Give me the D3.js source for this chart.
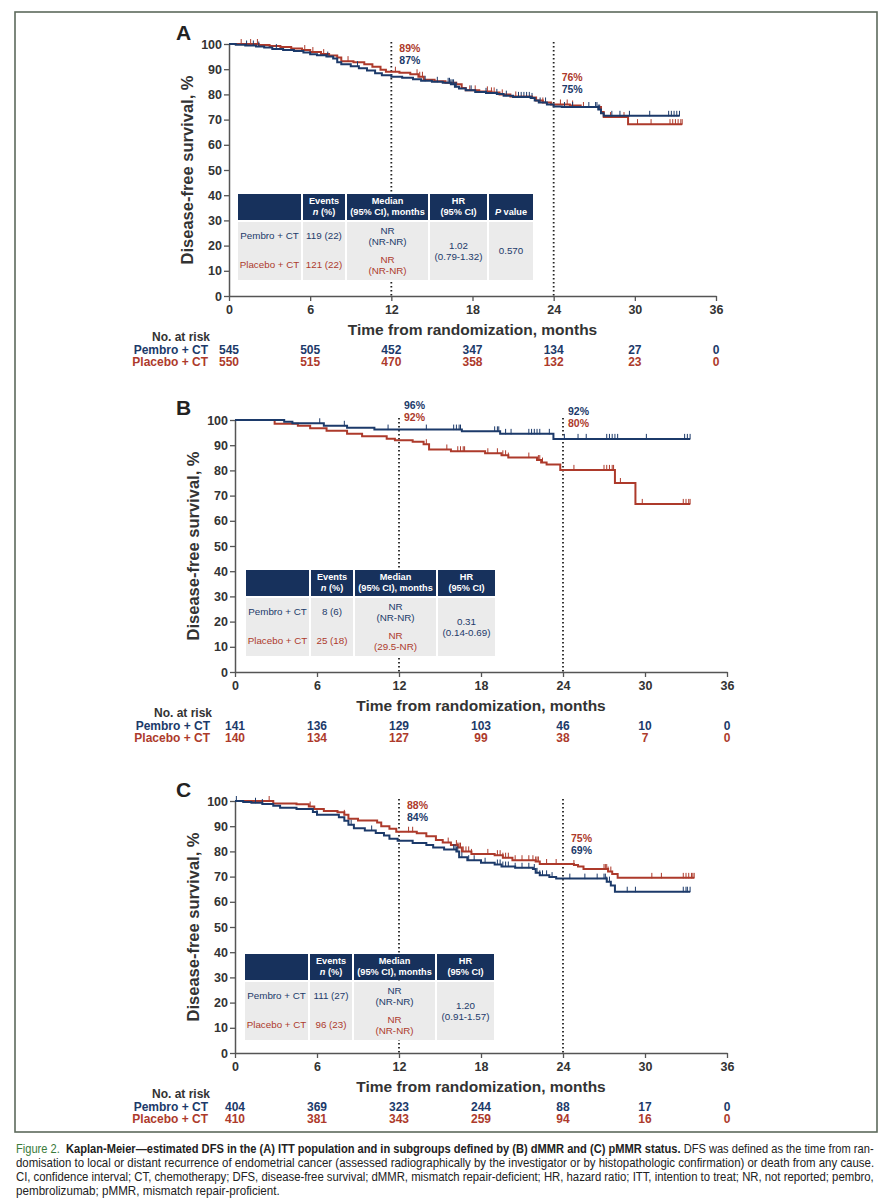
<!DOCTYPE html>
<html>
<head>
<meta charset="utf-8">
<script src="https://cdn.jsdelivr.net/npm/d3@7"></script>
<style>
body { margin: 0; background: #fff; }
svg { display: block; }
text { font-family: "Liberation Sans", Arial, sans-serif; }
</style>
</head>
<body>
<div id="fig"></div>
<script>
// ---- data ----
var months = [0, 6, 12, 18, 24, 30, 36];
var yTicks = [0, 10, 20, 30, 40, 50, 60, 70, 80, 90, 100];
var arms = ['Pembro + CT', 'Placebo + CT'];
var landmarks = [12, 24];

// A - ITT
var stepsA_pembro = [[0,100],[0.5,99.7],[1.2,99.4],[2.0,99.0],[2.6,98.6],[3.2,98.0],[4.0,97.6],[4.8,97.2],[5.5,96.6],[6.0,95.9],[6.5,95.5],[7.2,95.0],[7.7,94.2],[8.0,92.8],[8.3,92.0],[9.0,91.2],[9.6,90.4],[10.2,89.5],[10.8,88.4],[11.3,87.6],[12.0,87.0],[12.8,86.6],[13.6,86.0],[14.2,85.4],[15.0,85.0],[15.8,84.6],[16.4,84.0],[16.7,83.0],[17.0,82.3],[17.5,81.6],[18.2,81.0],[19.0,80.6],[19.8,80.2],[20.3,79.5],[21.0,79.0],[22.3,78.6],[22.6,77.6],[22.9,76.8],[23.5,76.0],[24.0,75.2],[24.6,75.0],[27.3,74.0],[27.5,72.5],[27.7,71.5],[33.3,71.5]];
var stepsA_placebo = [[0,100],[2.2,99.6],[3.0,99.2],[3.8,98.8],[4.6,98.2],[5.4,97.6],[6.0,96.8],[6.8,96.0],[7.4,95.4],[8.0,94.6],[8.3,93.2],[9.2,92.8],[10.0,92.0],[10.6,91.0],[11.2,89.8],[11.6,89.0],[12.6,88.6],[13.4,88.0],[14.0,87.0],[14.4,85.8],[15.2,85.2],[16.0,84.6],[16.8,84.0],[17.2,82.5],[17.5,81.6],[18.5,81.2],[19.4,80.8],[20.0,80.0],[20.8,79.2],[22.4,78.8],[22.7,77.6],[23.2,76.8],[23.8,76.0],[25.2,75.6],[26.0,75.0],[27.5,73.0],[27.7,71.0],[29.5,68.2],[33.5,68.2]];
var censA_pembro = [1.3,1.8,2.2,3.5,7.3,9.5,14.5,15.4,16.2,16.3,16.4,16.5,16.6,16.7,16.8,17.9,19.0,19.8,20.5,21.4,21.6,21.8,22.0,22.2,22.4,23.0,23.4,24.8,25.4,26.6,27.1,27.2,27.3,27.4,28.3,28.9,29.6,31.1,32.5,32.7,32.9,33.1,33.3];
var censA_placebo = [0.9,1.6,2.1,5.6,6.2,7.0,8.8,12.3,13.9,14.1,14.3,17.8,18.2,19.1,19.4,19.6,20.2,21.2,23.2,24.5,25.0,25.4,26.2,28.2,29.2,30.2,31.2,32.6,32.8,33.0,33.2,33.4,33.5];
var riskA_pembro = [545, 505, 452, 347, 134, 27, 0];
var riskA_placebo = [550, 515, 470, 358, 132, 23, 0];
var landA_pembro = [87, 75];
var landA_placebo = [89, 76];
var eventsA = ['119 (22)', '121 (22)'];
var medianA = [['NR', '(NR-NR)'], ['NR', '(NR-NR)']];
var hrA = ['1.02', '(0.79-1.32)'];
var pA = '0.570';

// B - dMMR
var stepsB_pembro = [[0,100],[3.6,99.3],[4.2,98.7],[6.5,97.7],[8.2,96.9],[10.2,96.2],[16.6,95.5],[19.4,94.5],[23.3,92.5],[33.3,92.5]];
var stepsB_placebo = [[0,100],[2.9,98.5],[4.6,97.7],[5.5,96.7],[6.7,95.7],[8.2,94.5],[9.3,93.6],[11.1,92.6],[11.7,92.0],[13.0,91.4],[13.8,90.4],[14.2,88.3],[15.8,87.6],[18.3,86.8],[19.5,86.0],[20.0,85.1],[22.1,84.1],[22.4,83.1],[22.8,82.3],[23.8,80.2],[27.8,75.0],[29.3,66.7],[33.3,66.7]];
var censB_pembro = [6.2,8.0,11.2,14.0,16.0,16.2,16.4,16.5,19.0,19.2,19.3,19.8,20.2,21.5,21.7,21.9,22.1,22.3,23.0,24.1,25.1,25.7,27.2,27.4,27.6,27.8,28.0,30.1,32.9,33.1,33.3];
var censB_placebo = [14.0,15.5,16.3,16.5,16.7,16.8,18.5,19.2,19.6,19.8,20.0,21.5,22.2,22.3,22.5,24.8,27.0,27.2,27.4,27.6,27.7,28.2,29.8,32.8,33.0,33.2,33.3];
var riskB_pembro = [141, 136, 129, 103, 46, 10, 0];
var riskB_placebo = [140, 134, 127, 99, 38, 7, 0];
var landB_pembro = [96, 92];
var landB_placebo = [92, 80];
var eventsB = ['8 (6)', '25 (18)'];
var medianB = [['NR', '(NR-NR)'], ['NR', '(29.5-NR)']];
var hrB = ['0.31', '(0.14-0.69)'];

// C - pMMR
var stepsC_pembro = [[0,100],[0.6,99.6],[1.2,99.3],[2.0,98.8],[2.8,98.1],[3.3,97.3],[4.5,96.8],[5.7,95.6],[6.0,94.5],[7.6,93.6],[8.0,92.2],[8.3,90.6],[8.7,89.2],[9.5,88.3],[10.3,87.3],[10.9,86.3],[11.3,85.0],[11.9,84.2],[13.0,83.3],[14.0,82.5],[14.5,81.5],[15.3,80.8],[16.2,80.0],[16.4,77.7],[17.0,76.5],[18.0,75.5],[19.0,74.8],[19.5,74.0],[20.5,73.5],[21.8,73.0],[22.0,71.5],[22.3,70.5],[23.0,69.8],[23.5,69.2],[27.2,68.0],[27.5,66.5],[27.8,64.0],[33.3,64.0]];
var stepsC_placebo = [[0,100],[2.8,99.0],[4.5,98.7],[5.4,97.8],[5.8,96.8],[6.5,96.0],[7.5,95.5],[8.0,94.5],[8.3,93.0],[9.0,92.3],[10.4,91.5],[10.7,90.0],[11.3,89.0],[11.8,87.8],[13.3,87.2],[14.0,86.0],[14.7,84.5],[15.2,83.5],[15.8,82.5],[16.3,81.5],[16.6,80.0],[17.3,79.0],[19.0,78.5],[19.6,77.5],[20.3,76.5],[22.0,76.0],[22.3,75.0],[24.8,74.6],[25.1,74.0],[25.5,73.0],[27.3,72.0],[27.6,71.0],[28.0,69.5],[33.6,69.5]];
var censC_pembro = [0.1,1.5,2.0,6.0,8.5,10.0,16.0,16.1,16.2,16.3,16.6,17.1,17.5,18.3,19.2,19.4,19.6,19.8,20.0,20.5,21.0,21.5,21.9,22.1,22.3,22.5,22.8,23.2,24.5,25.6,26.5,27.0,27.1,27.2,27.4,28.7,29.3,32.8,33.0,33.1,33.3];
var censC_placebo = [2.5,5.5,8.0,12.7,13.0,15.6,16.2,16.3,16.4,16.5,16.7,16.9,17.1,17.3,18.5,19.2,19.4,19.6,19.8,20.0,20.5,21.0,21.5,21.8,22.0,22.1,22.2,22.8,23.5,24.8,27.0,27.1,27.2,27.3,27.5,30.5,31.2,32.8,33.0,33.2,33.4,33.5,33.6];
var riskC_pembro = [404, 369, 323, 244, 88, 17, 0];
var riskC_placebo = [410, 381, 343, 259, 94, 16, 0];
var landC_pembro = [84, 69];
var landC_placebo = [88, 75];
var eventsC = ['111 (27)', '96 (23)'];
var medianC = [['NR', '(NR-NR)'], ['NR', '(NR-NR)']];
var hrC = ['1.20', '(0.91-1.57)'];

var caption = [
  'domisation to local or distant recurrence of endometrial cancer (assessed radiographically by the investigator or by histopathologic confirmation) or death from any cause.',
  'CI, confidence interval; CT, chemotherapy; DFS, disease-free survival; dMMR, mismatch repair-deficient; HR, hazard ratio; ITT, intention to treat; NR, not reported; pembro,',
  'pembrolizumab; pMMR, mismatch repair-proficient.'
];

// ---- colours ----
var BLUE = '#1c3a6a', RED = '#ad3a2b', INK = '#333', HEAD = '#17315c', CELL = '#ebebeb';

var svg = d3.select('#fig').append('svg')
  .attr('width', 892).attr('height', 1200);

svg.append('rect')
  .attr('x', 15).attr('y', 12).attr('width', 862).attr('height', 1120)
  .attr('fill', 'none').attr('stroke', '#5d6a5c').attr('stroke-width', 1.6);

function survAt(steps, t) {
  var s = steps[0][1];
  steps.forEach(function(d) { if (d[0] <= t) s = d[1]; });
  return s;
}

function drawPanel(c) {
  var x = d3.scaleLinear().domain([0, 36]).range([c.x0, c.x1]);
  var y = d3.scaleLinear().domain([0, 100]).range([c.y0, c.y100]);
  var g = svg.append('g');

  g.append('text').text(c.letter)
    .attr('x', c.letterX).attr('y', c.letterY)
    .attr('font-size', 21).attr('font-weight', 'bold').attr('fill', '#222');

  // axes
  var ay = g.append('g').attr('transform', 'translate(' + c.x0 + ',0)')
    .call(d3.axisLeft(y).tickValues(yTicks).tickSize(5).tickSizeOuter(0).tickPadding(2));
  var ax = g.append('g').attr('transform', 'translate(0,' + c.y0 + ')')
    .call(d3.axisBottom(x).tickValues(months).tickSize(5).tickSizeOuter(0).tickPadding(4));
  [ay, ax].forEach(function(a) {
    a.select('.domain').attr('stroke', '#555').attr('stroke-width', 1.5);
    a.selectAll('.tick line').attr('stroke', '#555').attr('stroke-width', 1.3);
    a.selectAll('.tick text').attr('font-size', 12.5).attr('font-weight', 'bold')
      .attr('fill', INK).attr('font-family', '"Liberation Sans", Arial, sans-serif');
  });

  g.append('text').text('Disease-free survival, %')
    .attr('transform', 'translate(' + c.yTitleX + ',' + ((c.y0 + c.y100) / 2) + ') rotate(-90)')
    .attr('text-anchor', 'middle').attr('font-size', 16.5).attr('font-weight', 'bold').attr('fill', INK);
  g.append('text').text('Time from randomization, months')
    .attr('x', (c.x0 + c.x1) / 2).attr('y', c.y0 + 39)
    .attr('text-anchor', 'middle').attr('font-size', 15.5).attr('font-weight', 'bold').attr('fill', INK);

  // landmark lines
  landmarks.forEach(function(t, i) {
    g.append('line')
      .attr('x1', x(t)).attr('x2', x(t)).attr('y1', y(100) - 2).attr('y2', c.y0)
      .attr('stroke', '#222').attr('stroke-width', 1.8).attr('stroke-dasharray', '1.4,2.6');
    var lab = c.landFirst === 'placebo'
      ? [[c.landPlacebo[i], RED], [c.landPembro[i], BLUE]]
      : [[c.landPembro[i], BLUE], [c.landPlacebo[i], RED]];
    lab.forEach(function(l, j) {
      g.append('text').text(l[0] + '%')
        .attr('x', x(t) + c.landDx).attr('y', c.landY[i] + j * 12)
        .attr('font-size', 10.5).attr('font-weight', 'bold').attr('fill', l[1]);
    });
  });

  // table
  drawTable(g, c);

  // curves
  var line = d3.line().curve(d3.curveStepAfter)
    .x(function(d) { return x(d[0]); })
    .y(function(d) { return y(d[1]); });
  [[c.stepsPlacebo, c.censPlacebo, RED], [c.stepsPembro, c.censPembro, BLUE]].forEach(function(s) {
    g.append('path').datum(s[0]).attr('d', line)
      .attr('fill', 'none').attr('stroke', s[2]).attr('stroke-width', 2);
    g.selectAll(null).data(s[1]).enter().append('line')
      .attr('x1', function(d) { return x(d); }).attr('x2', function(d) { return x(d); })
      .attr('y1', function(d) { return y(survAt(s[0], d)) - 5; })
      .attr('y2', function(d) { return y(survAt(s[0], d)) + 0.5; })
      .attr('stroke', s[2]).attr('stroke-width', 1);
  });

  // number at risk
  g.append('text').text('No. at risk')
    .attr('x', c.riskLabelX + 2).attr('y', c.y0 + 45).attr('text-anchor', 'end')
    .attr('font-size', 12).attr('font-weight', 'bold').attr('fill', INK);
  [[c.riskPembro, BLUE, 58], [c.riskPlacebo, RED, 70]].forEach(function(r, i) {
    g.append('text').text(arms[i])
      .attr('x', c.riskLabelX).attr('y', c.y0 + r[2]).attr('text-anchor', 'end')
      .attr('font-size', 12).attr('font-weight', 'bold').attr('fill', r[1]);
    g.selectAll(null).data(r[0]).enter().append('text')
      .text(function(d) { return d; })
      .attr('x', function(d, k) { return x(months[k]); })
      .attr('y', c.y0 + r[2]).attr('text-anchor', 'middle')
      .attr('font-size', 12).attr('font-weight', 'bold').attr('fill', r[1]);
  });
}

function drawTable(g, c) {
  var widths = [63, 42, 81, 57, 44];
  var ncol = c.p ? 5 : 4;
  var top = c.tableTop, hh = 26, bh = 58, gap = 2;
  var lefts = [], xx = c.tableX;
  widths.forEach(function(w) { lefts.push(xx); xx += w + gap; });
  for (var i = 0; i < ncol; i++) {
    g.append('rect').attr('x', lefts[i]).attr('y', top).attr('width', widths[i]).attr('height', hh).attr('fill', HEAD);
    g.append('rect').attr('x', lefts[i]).attr('y', top + hh + gap).attr('width', widths[i]).attr('height', bh).attr('fill', CELL);
  }
  function cell(col, yy, txt, col2, opts) {
    var t = g.append('text').attr('x', lefts[col] + widths[col] / 2).attr('y', yy)
      .attr('text-anchor', 'middle').attr('font-size', opts && opts.bold ? 9.2 : 9.8).attr('fill', col2);
    if (opts && opts.bold) t.attr('font-weight', 'bold');
    if (opts && opts.italicFirst) {
      t.append('tspan').attr('font-style', 'italic').text(opts.italicFirst);
      t.append('tspan').text(txt);
    } else t.text(txt);
    return t;
  }
  var h1 = top + 10, h2 = top + 21;
  cell(1, h1, 'Events', '#fff', {bold: 1});
  cell(1, h2, ' (%)', '#fff', {bold: 1, italicFirst: 'n'});
  cell(2, h1, 'Median', '#fff', {bold: 1});
  cell(2, h2, '(95% CI), months', '#fff', {bold: 1});
  cell(3, h1, 'HR', '#fff', {bold: 1});
  cell(3, h2, '(95% CI)', '#fff', {bold: 1});
  if (c.p) cell(4, h2, ' value', '#fff', {bold: 1, italicFirst: 'P'});

  var b = top + hh + gap;
  var rowY = [b + 17, b + 46];
  [BLUE, RED].forEach(function(col, r) {
    cell(0, rowY[r], arms[r], col);
    cell(1, rowY[r], c.events[r], col);
    cell(2, rowY[r] - 5, c.median[r][0], col);
    cell(2, rowY[r] + 6, c.median[r][1], col);
  });
  cell(3, b + 27, c.hr[0], BLUE);
  cell(3, b + 38, c.hr[1], BLUE);
  if (c.p) cell(4, b + 32, c.p, BLUE);
}

drawPanel({
  letter: 'A', letterX: 176, letterY: 40,
  x0: 229, x1: 716, y0: 296, y100: 44, yTitleX: 193,
  stepsPembro: stepsA_pembro, stepsPlacebo: stepsA_placebo,
  censPembro: censA_pembro, censPlacebo: censA_placebo,
  riskPembro: riskA_pembro, riskPlacebo: riskA_placebo, riskLabelX: 208,
  landPembro: landA_pembro, landPlacebo: landA_placebo, landFirst: 'placebo',
  landDx: 8, landY: [52, 81],
  tableX: 238, tableTop: 194, events: eventsA, median: medianA, hr: hrA, p: pA
});

drawPanel({
  letter: 'B', letterX: 176, letterY: 415,
  x0: 235, x1: 727, y0: 672, y100: 420, yTitleX: 199,
  stepsPembro: stepsB_pembro, stepsPlacebo: stepsB_placebo,
  censPembro: censB_pembro, censPlacebo: censB_placebo,
  riskPembro: riskB_pembro, riskPlacebo: riskB_placebo, riskLabelX: 210,
  landPembro: landB_pembro, landPlacebo: landB_placebo, landFirst: 'pembro',
  landDx: 5, landY: [409, 415],
  tableX: 246, tableTop: 570, events: eventsB, median: medianB, hr: hrB, p: null
});

drawPanel({
  letter: 'C', letterX: 176, letterY: 797,
  x0: 235, x1: 727, y0: 1053, y100: 801, yTitleX: 199,
  stepsPembro: stepsC_pembro, stepsPlacebo: stepsC_placebo,
  censPembro: censC_pembro, censPlacebo: censC_placebo,
  riskPembro: riskC_pembro, riskPlacebo: riskC_placebo, riskLabelX: 208,
  landPembro: landC_pembro, landPlacebo: landC_placebo, landFirst: 'placebo',
  landDx: 8, landY: [809, 842],
  tableX: 245, tableTop: 954, events: eventsC, median: medianC, hr: hrC, p: null
});

// caption: each line squeezed horizontally to its width in the reference
function fitLine(t, y, w) {
  var len = t.node().getComputedTextLength();
  t.attr('transform', 'translate(16,' + y + ') scale(' + (w / len) + ',1)');
}
var capFont = '"Liberation Sans", Arial, sans-serif';
var c1 = svg.append('text').attr('x', 0).attr('y', 0)
  .attr('font-size', 12).attr('font-family', capFont).attr('fill', '#222');
c1.append('tspan').attr('fill', '#3a7a3a').text('Figure 2.\u00a0\u00a0');
c1.append('tspan').attr('font-weight', 'bold')
  .text('Kaplan-Meier\u2014estimated DFS in the (A) ITT population and in subgroups defined by (B) dMMR and (C) pMMR status.');
c1.append('tspan').text(' DFS was defined as the time from ran-');
fitLine(c1, 1153, 859);
var capW = [859, 859, 264];
caption.forEach(function(s, i) {
  var t = svg.append('text').attr('x', 0).attr('y', 0)
    .attr('font-size', 12).attr('font-family', capFont).attr('fill', '#222').text(s);
  fitLine(t, 1167 + i * 14, capW[i]);
});
</script>
</body>
</html>
